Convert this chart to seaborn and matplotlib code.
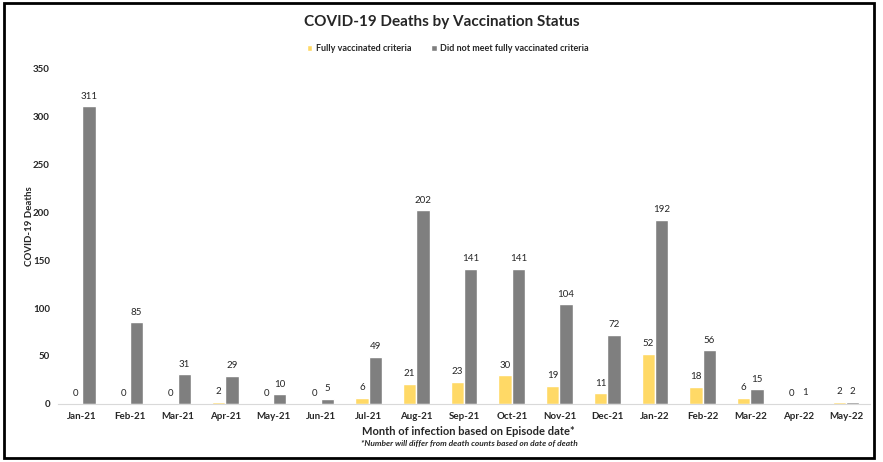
import numpy as np
import pandas as pd
import matplotlib
matplotlib.use("Agg")
import matplotlib.pyplot as plt
from matplotlib.patches import Rectangle
import seaborn as sns

months = ["Jan-21", "Feb-21", "Mar-21", "Apr-21", "May-21", "Jun-21", "Jul-21", "Aug-21",
          "Sep-21", "Oct-21", "Nov-21", "Dec-21", "Jan-22", "Feb-22", "Mar-22", "Apr-22", "May-22"]
fully_vacc = [0, 0, 0, 2, 0, 0, 6, 21, 23, 30, 19, 11, 52, 18, 6, 0, 2]
not_fully = [311, 85, 31, 29, 10, 5, 49, 202, 141, 141, 104, 72, 192, 56, 15, 1, 2]
series_names = ["Fully vaccinated criteria", "Did not meet fully vaccinated criteria"]

df = pd.DataFrame({
    "month": months * 2,
    "deaths": fully_vacc + not_fully,
    "status": [series_names[0]] * len(months) + [series_names[1]] * len(months),
})

sns.set_style("white")
plt.rcParams["font.family"] = ["Lato", "DejaVu Sans"]

fig = plt.figure(figsize=(8.83, 4.62), dpi=100)
ax = fig.add_axes([0.066, 0.126, 0.919, 0.725])

sns.barplot(data=df, x="month", y="deaths", hue="status", order=months,
            hue_order=series_names, palette=["#FFD966", "#7F7F7F"],
            width=0.56, saturation=1, ax=ax)

for cont in ax.containers:
    ax.bar_label(cont, padding=4, fontsize=7, color="#262626")

ax.set_ylim(0, 350)
ax.set_yticks(np.arange(0, 351, 50))
ax.set_xlim(-0.5, len(months) - 0.5)
for s in ["top", "right", "left"]:
    ax.spines[s].set_visible(False)
ax.spines["bottom"].set_color("#D9D9D9")
ax.tick_params(axis="both", length=0, labelsize=7, pad=6)
for lbl in ax.get_xticklabels() + ax.get_yticklabels():
    lbl.set_fontweight("bold")
    lbl.set_color("#262626")

ax.set_xlabel("")
ax.set_ylabel("")
fig.text(0.033, 0.51, "COVID-19 Deaths", rotation=90, ha="center", va="center",
         fontsize=7, fontweight="bold", color="#262626")
fig.text(0.53, 0.067, "Month of infection based on Episode date*", ha="center", va="center",
         fontsize=8, fontweight="bold", color="#262626")
fig.text(0.532, 0.040, "*Number will differ from death counts based on date of death",
         ha="center", va="center", fontsize=6, fontweight="bold", style="italic", color="#262626")

fig.text(0.5, 0.953, "COVID-19 Deaths by Vaccination Status", ha="center", va="center",
         fontsize=11, fontweight="bold")

leg = ax.legend(loc="center", bbox_to_anchor=(0.48, 1.06), ncol=2, frameon=False,
                fontsize=6.5, handlelength=0.6, handleheight=0.6, columnspacing=2.2,
                handletextpad=0.4)
for t in leg.get_texts():
    t.set_fontweight("bold")

fig.patches.append(Rectangle((0.004, 0.008), 0.986, 0.985, transform=fig.transFigure,
                             fill=False, edgecolor="black", linewidth=2))

fig.savefig("out.png", dpi=100)
